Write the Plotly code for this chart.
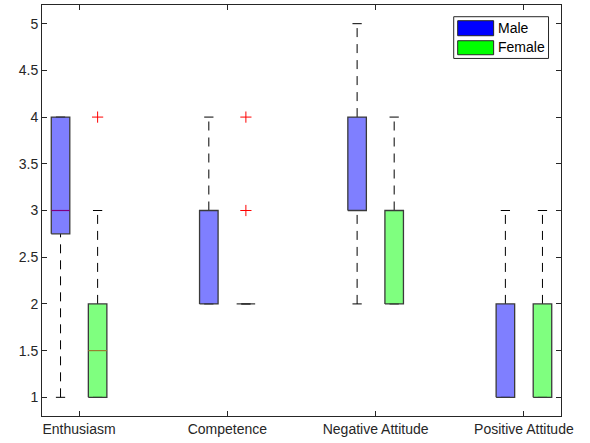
import plotly.graph_objects as go

categories = ["Enthusiasm", "Competence", "Negative Attitude", "Positive Attitude"]

# Male box statistics
male_low = [1, 2, 2, 1]
male_q1 = [2.75, 2, 3, 1]
male_med = [3, 2, 3, 1]
male_q3 = [4, 3, 4, 2]
male_high = [4, 4, 5, 3]
male_outliers = [[], [], [], []]

# Female box statistics
female_low = [1, 2, 2, 1]
female_q1 = [1, 2, 2, 1]
female_med = [1.5, 2, 2, 1]
female_q3 = [2, 2, 3, 2]
female_high = [3, 2, 4, 3]
female_outliers = [[4], [4, 3], [], []]

y_ticks = [1, 1.5, 2, 2.5, 3, 3.5, 4, 4.5, 5]
y_ticklabels = ["1", "1.5", "2", "2.5", "3", "3.5", "4", "4.5", "5"]

W, H = 590, 443
L, R, T, B = 41.5, 561.5, 5.3, 416
FONT = "Liberation Sans, Arial, sans-serif"
AX = "#262626"
EDGE = "#3a3a3a"

offset = 0.125
bw = 0.125
cap = bw / 2

fig = go.Figure()

groups = [
    ("Male", -offset, male_low, male_q1, male_med, male_q3, male_high, male_outliers,
     "rgba(0,0,255,0.5)", "#800080"),
    ("Female", offset, female_low, female_q1, female_med, female_q3, female_high, female_outliers,
     "rgba(0,255,0,0.5)", "#998030"),
]

for name, off, lo, q1, med, q3, hi, outl, fillc, medc in groups:
    wx, wy = [], []
    cx, cy = [], []
    mx, my = [], []
    ox, oy = [], []
    for i in range(len(categories)):
        p = i + 1 + off
        if hi[i] > q3[i]:
            wx += [p, p, None]
            wy += [q3[i], hi[i], None]
        if lo[i] < q1[i]:
            wx += [p, p, None]
            wy += [lo[i], q1[i], None]
        cx += [p - cap / 2, p + cap / 2, None, p - cap / 2, p + cap / 2, None]
        cy += [hi[i], hi[i], None, lo[i], lo[i], None]
        if q1[i] < med[i] < q3[i]:
            mx += [p - bw / 2, p + bw / 2, None]
            my += [med[i], med[i], None]
        for v in outl[i]:
            ox.append(p)
            oy.append(v)
    fig.add_trace(go.Scatter(x=wx, y=wy, mode="lines", showlegend=False, hoverinfo="skip",
                             line=dict(color="black", width=1, dash="9px,7px")))
    fig.add_trace(go.Scatter(x=cx, y=cy, mode="lines", showlegend=False, hoverinfo="skip",
                             line=dict(color="black", width=1)))
    for i in range(len(categories)):
        p = i + 1 + off
        fig.add_trace(go.Scatter(
            x=[p - bw / 2, p + bw / 2, p + bw / 2, p - bw / 2, p - bw / 2],
            y=[q1[i], q1[i], q3[i], q3[i], q1[i]],
            mode="lines", fill="toself", fillcolor=fillc,
            line=dict(color=EDGE, width=1.3), showlegend=False, name=name))
    if mx:
        fig.add_trace(go.Scatter(x=mx, y=my, mode="lines", showlegend=False, hoverinfo="skip",
                                 line=dict(color=medc, width=1.2)))
    if ox:
        fig.add_trace(go.Scatter(x=ox, y=oy, mode="markers", showlegend=False,
                                 marker=dict(symbol="cross-thin-open", size=8, color="red",
                                             line=dict(color="red", width=1))))


def px(x):
    return (x - L) / (R - L)


def py(y):
    return (B - y) / (B - T)


shapes = [
    dict(type="rect", xref="paper", yref="paper", x0=px(454), x1=px(549), y0=py(58.7), y1=py(17),
         line=dict(color=AX, width=1), fillcolor="white", layer="above"),
    dict(type="rect", xref="paper", yref="paper", x0=px(458), x1=px(494), y0=py(36), y1=py(21),
         line=dict(color=AX, width=1), fillcolor="#0000ff", layer="above"),
    dict(type="rect", xref="paper", yref="paper", x0=px(458), x1=px(494), y0=py(55), y1=py(41),
         line=dict(color=AX, width=1), fillcolor="#00ff00", layer="above"),
]
annotations = [
    dict(xref="paper", yref="paper", x=px(496), y=py(28.5), text="Male", showarrow=False,
         xanchor="left", yanchor="middle", font=dict(family=FONT, size=14, color="black")),
    dict(xref="paper", yref="paper", x=px(496), y=py(47.5), text="Female", showarrow=False,
         xanchor="left", yanchor="middle", font=dict(family=FONT, size=14, color="black")),
]

fig.update_layout(
    width=W, height=H,
    margin=dict(l=L, r=W - R, t=T, b=H - B, pad=0),
    paper_bgcolor="white", plot_bgcolor="white",
    showlegend=False,
    shapes=shapes, annotations=annotations,
    font=dict(family=FONT, size=14, color=AX),
    xaxis=dict(range=[0.75, 4.25], tickvals=[1, 2, 3, 4], ticktext=categories,
               showgrid=False, zeroline=False, showline=True, linecolor=AX, linewidth=1,
               mirror="ticks", ticks="inside", ticklen=5, tickcolor=AX,
               tickfont=dict(family=FONT, size=14, color=AX)),
    yaxis=dict(range=[0.8, 5.2], tickvals=y_ticks, ticktext=y_ticklabels,
               showgrid=False, zeroline=False, showline=True, linecolor=AX, linewidth=1,
               mirror="ticks", ticks="inside", ticklen=5, tickcolor=AX,
               tickfont=dict(family=FONT, size=14, color=AX)),
)

fig.write_html("out.html", config={"displayModeBar": False},
               post_script="document.body.style.margin='0px';")
